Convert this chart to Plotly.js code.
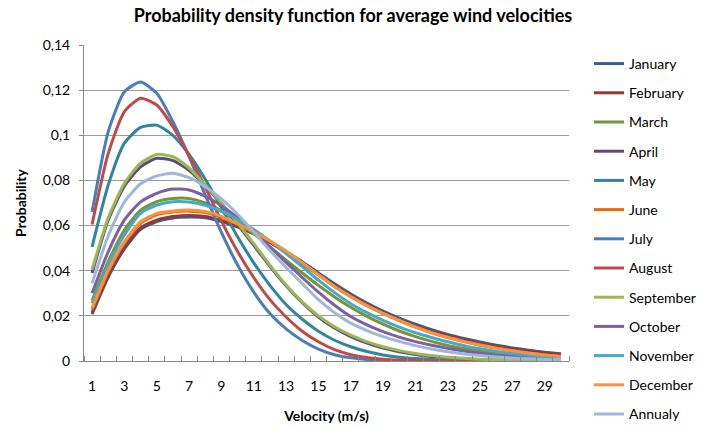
<!DOCTYPE html>
<html>
<head>
<meta charset="utf-8">
<script src="https://cdn.plot.ly/plotly-3.0.1.min.js"></script>
<style>html,body{margin:0;padding:0;background:#fff;}#chart{width:701px;height:429px;}</style>
</head>
<body>
<div id="chart"></div>
<script>
const velocity = [1,2,3,4,5,6,7,8,9,10,11,12,13,14,15,16,17,18,19,20,21,22,23,24,25,26,27,28,29,30];
const xTickVals = [1,3,5,7,9,11,13,15,17,19,21,23,25,27,29];
const seriesNames = ["January","February","March","April","May","June","July","August","September","October","November","December","Annualy"];

const january = [0.0208,0.0372,0.0497,0.0583,0.0618,0.0634,0.0638,0.0635,0.0618,0.0594,0.0563,0.0526,0.0484,0.0440,0.0390,0.0342,0.0297,0.0257,0.0221,0.0190,0.0163,0.0139,0.0118,0.0100,0.0084,0.0070,0.0058,0.0048,0.0039,0.0032];
const february = [0.0213,0.0380,0.0505,0.0590,0.0624,0.0640,0.0645,0.0640,0.0622,0.0597,0.0565,0.0525,0.0480,0.0432,0.0382,0.0334,0.0290,0.0250,0.0214,0.0183,0.0156,0.0132,0.0111,0.0093,0.0078,0.0065,0.0053,0.0043,0.0035,0.0028];
const march = [0.0268,0.0440,0.0580,0.0668,0.0706,0.0720,0.0720,0.0700,0.0664,0.0618,0.0564,0.0506,0.0447,0.0390,0.0335,0.0284,0.0238,0.0198,0.0163,0.0133,0.0108,0.0087,0.0069,0.0055,0.0043,0.0033,0.0026,0.0020,0.0015,0.0011];
const april = [0.0390,0.0625,0.0775,0.0860,0.0898,0.0888,0.0845,0.0775,0.0695,0.0605,0.0512,0.0420,0.0333,0.0258,0.0195,0.0146,0.0108,0.0079,0.0057,0.0041,0.0029,0.0020,0.0014,0.0009,0.0006,0.0004,0.0003,0.0002,0.0001,0.0001];
const may = [0.0506,0.0780,0.0965,0.1035,0.1045,0.1000,0.0915,0.0805,0.0680,0.0550,0.0435,0.0335,0.0250,0.0185,0.0132,0.0092,0.0063,0.0042,0.0027,0.0017,0.0011,0.0007,0.0004,0.0003,0.0002,0.0001,0.0001,0,0,0];
const june = [0.0228,0.0396,0.0522,0.0610,0.0648,0.0660,0.0664,0.0658,0.0637,0.0605,0.0570,0.0530,0.0484,0.0434,0.0382,0.0330,0.0285,0.0245,0.0210,0.0179,0.0150,0.0125,0.0104,0.0086,0.0070,0.0057,0.0045,0.0035,0.0027,0.0020];
const july = [0.0660,0.1016,0.1193,0.1236,0.1186,0.1060,0.0905,0.0735,0.0570,0.0425,0.0305,0.0210,0.0142,0.0091,0.0053,0.0028,0.0014,0.0007,0.0003,0.0001,0.0001,0,0,0,0,0,0,0,0,0];
const august = [0.0605,0.0920,0.1105,0.1164,0.1134,0.1038,0.0910,0.0770,0.0620,0.0485,0.0370,0.0272,0.0195,0.0132,0.0085,0.0050,0.0028,0.0015,0.0008,0.0004,0.0002,0.0001,0.0001,0,0,0,0,0,0,0];
const september = [0.0405,0.0635,0.0787,0.0876,0.0915,0.0905,0.0855,0.0780,0.0700,0.0612,0.0520,0.0425,0.0337,0.0262,0.0200,0.0152,0.0115,0.0086,0.0063,0.0046,0.0033,0.0024,0.0017,0.0012,0.0008,0.0005,0.0003,0.0002,0.0001,0.0001];
const october = [0.0300,0.0484,0.0625,0.0705,0.0743,0.0762,0.0758,0.0730,0.0688,0.0635,0.0575,0.0505,0.0437,0.0370,0.0305,0.0247,0.0197,0.0160,0.0130,0.0106,0.0086,0.0070,0.0056,0.0044,0.0034,0.0026,0.0020,0.0015,0.0011,0.0008];
const november = [0.0256,0.0425,0.0558,0.0654,0.0691,0.0706,0.0704,0.0690,0.0664,0.0627,0.0583,0.0532,0.0476,0.0418,0.0358,0.0303,0.0254,0.0214,0.0180,0.0150,0.0125,0.0104,0.0085,0.0068,0.0054,0.0042,0.0033,0.0025,0.0019,0.0013];
const december = [0.0234,0.0403,0.0529,0.0617,0.0654,0.0665,0.0669,0.0662,0.0641,0.0608,0.0572,0.0533,0.0487,0.0436,0.0382,0.0330,0.0286,0.0246,0.0211,0.0180,0.0151,0.0126,0.0105,0.0087,0.0071,0.0057,0.0045,0.0035,0.0027,0.0020];
const annualy = [0.0344,0.0555,0.0705,0.0785,0.0820,0.0832,0.0812,0.0772,0.0718,0.0650,0.0572,0.0490,0.0415,0.0343,0.0272,0.0214,0.0168,0.0135,0.0108,0.0087,0.0068,0.0053,0.0041,0.0031,0.0024,0.0018,0.0013,0.0010,0.0007,0.0005];

const seriesValues = [january,february,march,april,may,june,july,august,september,october,november,december,annualy];
const seriesColors = ["#376092","#953735","#77933C","#604A7B","#31859C","#E46C0A","#4A7EBB","#BE4B48","#98B954","#7D60A0","#46AAC5","#F69240","#A0B6DA"];

const FONT = "Lato, 'Open Sans', sans-serif";

const traces = seriesNames.map((name, i) => ({
  type: "scatter",
  mode: "lines",
  name: name,
  legendgroup: "g" + i,
  x: velocity,
  y: seriesValues[i],
  line: {color: seriesColors[i], width: 3, shape: "spline", smoothing: 0.6},
  hoverinfo: "x+y+name"
}));

const layout = {
  width: 701,
  height: 429,
  margin: {l: 84, r: 132, t: 45, b: 68, pad: 0},
  paper_bgcolor: "#ffffff",
  plot_bgcolor: "#ffffff",
  separators: ",.",
  font: {family: FONT, size: 14, color: "#000"},
  title: {
    text: "<b>Probability density function for average wind velocities</b>",
    font: {family: FONT, size: 18, color: "#000"},
    x: 353/701, xanchor: "center", xref: "container",
    y: 1 - 16/429, yanchor: "middle", yref: "container"
  },
  xaxis: {
    range: [0.5, 30.5],
    tickmode: "array",
    tickvals: xTickVals,
    ticktext: xTickVals.map(String),
    ticks: "",
    ticklabelstandoff: 12,
    showgrid: false,
    zeroline: false,
    showline: true,
    linecolor: "#888888",
    linewidth: 1,
    tickfont: {family: FONT, size: 14, color: "#000"},
    minor: {tick0: 0.5, dtick: 1, ticks: "inside", ticklen: 5, tickcolor: "#888888", tickwidth: 1, showgrid: false},
    title: {text: "<b>Velocity (m/s)</b>", font: {family: FONT, size: 14, color: "#000"}, standoff: 18}
  },
  yaxis: {
    range: [0, 0.14],
    tickmode: "linear",
    tick0: 0,
    dtick: 0.02,
    ticks: "outside",
    ticklen: 4,
    tickcolor: "#888888",
    ticklabelstandoff: 6,
    showgrid: true,
    gridcolor: "#9a9a9a",
    gridwidth: 1,
    zeroline: false,
    showline: true,
    linecolor: "#888888",
    linewidth: 1,
    tickfont: {family: FONT, size: 14, color: "#000"},
    title: {text: "<b>Probability</b>", font: {family: FONT, size: 14, color: "#000"}, standoff: 12}
  },
  legend: {
    xref: "container", yref: "container",
    x: 589/701, xanchor: "left",
    y: 1 - 48/429, yanchor: "top",
    font: {family: FONT, size: 14, color: "#000"},
    tracegroupgap: 8,
    maxheight: 429,
    bgcolor: "rgba(0,0,0,0)",
    borderwidth: 0
  },
  showlegend: true
};

Plotly.newPlot("chart", traces, layout, {displayModeBar: false, staticPlot: true});
</script>
</body>
</html>
